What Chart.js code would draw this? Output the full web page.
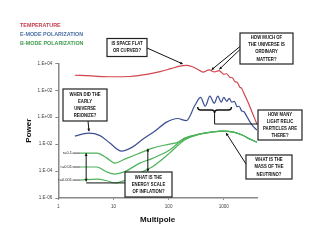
<!DOCTYPE html>
<meta charset="utf-8">
<title>CMB power spectra</title>
<script src="https://cdn.jsdelivr.net/npm/chart.js@4.4.1/dist/chart.umd.min.js"></script>
<style>
body { margin: 0; background: #fff; }
canvas { display: block; }
</style>

<canvas id="chart" width="310" height="240"></canvas>

<script>
// values (multipole l, power)
const ttL = [2, 4, 9, 20, 40, 70, 110, 160, 210, 270, 340, 420, 540, 680, 820, 1000, 1130, 1280, 1430, 1600, 1750, 1950, 2100, 2400, 2800, 3200, 4000];
const ttP = [1300, 1150, 1000, 1050, 1500, 2400, 4000, 6200, 7000, 5500, 3500, 2200, 3200, 2300, 2900, 1530, 1670, 920, 840, 430, 390, 170, 140, 43, 11, 2.8, 0.3];

const eeL = [2, 3.5, 5.7, 8.6, 14, 22, 34, 56, 92, 145, 210, 300, 380, 460, 560, 670, 780, 900, 1000, 1130, 1250, 1400, 1550, 1750, 1900, 2100, 2300, 2600, 3000, 3500, 4000];
const eeP = [0.039, 0.065, 0.043, 0.012, 0.003, 0.006, 0.023, 0.091, 0.43, 0.8, 0.55, 7.7, 30, 6.5, 36, 11, 36, 13, 30, 15, 25, 13, 15, 6, 6.5, 3.0, 2.6, 1.2, 0.43, 0.18, 0.11];

const bbL = [2.5, 5, 7.6, 10.6, 16, 30, 51, 104, 150, 194, 362, 600, 935, 1500, 2150, 3000, 4000];
const bbR1 = [0.00215, 0.00215, 0.00091, 0.00039, 0.00077, 0.00215, 0.0051, 0.01, 0.014, 0.028, 0.055, 0.078, 0.092, 0.078, 0.047, 0.023, 0.014];
const bbR01 = [0.0002, 0.0002, 0.000085, 0.00006, 0.00009, 0.00039, 0.00087, 0.0036, 0.0119, 0.0235, 0.055, 0.078, 0.092, 0.078, 0.047, 0.023, 0.014];
const bbR001 = [0.0000215, 0.000025, 0.000019, 0.000013, 0.00002, 0.000071, 0.00021, 0.00215, 0.0085, 0.02, 0.055, 0.078, 0.092, 0.078, 0.047, 0.023, 0.014];
const rLabels = ['r=0.1', 'r=0.01', 'r=0.001'];

const xTicks = [1, 10, 100, 1000];
const yTicks = [1e-6, 1e-4, 1e-2, 1, 1e2, 1e4];

const RED = '#d2454a', BLUE = '#3d4f92', GREEN = '#4db35a';

const pts = (ls, ps) => ls.map((l, i) => ({x: l, y: ps[i]}));

const line = (label, data, color) => ({
	label, data,
	borderColor: color,
	borderWidth: 1.2,
	pointRadius: 0,
	cubicInterpolationMode: 'monotone',
	fill: false,
});

// callout boxes (pixel layout) and what they point at (data coords)
const boxes = [
	{text: ['IS SPACE FLAT', 'OR CURVED?'], left: 107, top: 38.5, w: 40, h: 18},
	{text: ['HOW MUCH OF', 'THE UNIVERSE IS', 'ORDINARY', 'MATTER?'], left: 240, top: 33, w: 53, h: 31},
	{text: ['WHEN DID THE', 'EARLY', 'UNIVERSE', 'REIONIZE?'], left: 63, top: 89, w: 44, h: 32},
	{text: ['HOW MANY', 'LIGHT RELIC', 'PARTICLES ARE', 'THERE?'], left: 258, top: 110, w: 44, h: 30},
	{text: ['WHAT IS THE', 'MASS OF THE', 'NEUTRINO?'], left: 246, top: 155, w: 46, h: 24},
	{text: ['WHAT IS THE', 'ENERGY SCALE', 'OF INFLATION?'], left: 125, top: 172, w: 47, h: 25},
];
const pointers = [
	{from: [147, 48], to: {l: 180, p: 9000}},
	{from: [240, 46.5], to: {l: 600, p: 3300}},
	{from: [240, 49.5], to: {l: 830, p: 3600}},
	{from: [88, 121], to: {l: 3.6, p: 0.09}},
	{from: [246, 164], to: {l: 1100, p: 0.068}},
];

function arrowHead(ctx, hx, hy, fx, fy) {
	const a = Math.atan2(hy - fy, hx - fx), s = 3;
	ctx.beginPath();
	ctx.moveTo(hx, hy);
	ctx.lineTo(hx - s * Math.cos(a - 0.5), hy - s * Math.sin(a - 0.5));
	ctx.lineTo(hx - s * Math.cos(a + 0.5), hy - s * Math.sin(a + 0.5));
	ctx.closePath();
	ctx.fill();
}

function arrow(ctx, x1, y1, x2, y2, both) {
	ctx.beginPath();
	ctx.moveTo(x1, y1);
	ctx.lineTo(x2, y2);
	ctx.stroke();
	arrowHead(ctx, x2, y2, x1, y1);
	if (both) arrowHead(ctx, x1, y1, x2, y2);
}

function squeezeText(ctx, t, x, y, k) {
	ctx.fillText(t, x, y, ctx.measureText(t).width * k);
}

const decorations = {
	id: 'decorations',
	afterDraw(chart) {
		const {ctx, scales: {x, y}} = chart;
		const X = l => x.getPixelForValue(l);
		const Y = p => y.getPixelForValue(p);
		ctx.save();

		// legend
		ctx.font = 'bold 6px Arial';
		ctx.textBaseline = 'middle';
		ctx.textAlign = 'left';
		[['TEMPERATURE', '#c43c4c', 25], ['E-MODE POLARIZATION', '#4a6fa5', 34.3], ['B-MODE POLARIZATION', '#3f9a4f', 43.3]]
			.forEach(([t, c, ty]) => { ctx.fillStyle = c; squeezeText(ctx, t, 20, ty, 0.9); });

		// r labels on the B-mode curves
		ctx.font = '4px Arial';
		ctx.fillStyle = '#222';
		ctx.strokeStyle = '#222';
		ctx.lineWidth = 0.8;
		ctx.textAlign = 'right';
		[bbR1, bbR01, bbR001].forEach((arr, i) => {
			const ty = Y(arr[0]);
			ctx.fillText(rLabels[i], 72, ty);
			ctx.beginPath();
			ctx.moveTo(72.5, ty);
			ctx.lineTo(X(bbL[0]), ty);
			ctx.stroke();
		});

		// arrows
		ctx.strokeStyle = '#111';
		ctx.fillStyle = '#111';
		ctx.lineWidth = 1;
		pointers.forEach(({from, to}) => arrow(ctx, from[0], from[1], X(to.l), Y(to.p)));

		// energy scale of inflation
		const xa = X(3.2), xb = X(42);
		arrow(ctx, xa, Y(0.0021), xa, Y(0.000017), true);
		ctx.beginPath();
		ctx.moveTo(xa, Y(0.000017) + 1.5);
		ctx.lineTo(boxes[5].left, Y(0.000017) + 1.5);
		ctx.stroke();
		arrow(ctx, xb, Y(0.0045), xb, boxes[5].top - 0.5, true);

		// brace over the E-mode peaks
		const b1 = X(336), b2 = X(1380), by = Y(4), bc = (b1 + b2) / 2;
		ctx.lineWidth = 1.4;
		ctx.beginPath();
		ctx.moveTo(b1, by - 2);
		ctx.quadraticCurveTo(b1, by + 1, b1 + 3, by + 1);
		ctx.lineTo(bc - 3, by + 1);
		ctx.quadraticCurveTo(bc, by + 1, bc, by + 4);
		ctx.quadraticCurveTo(bc, by + 1, bc + 3, by + 1);
		ctx.lineTo(b2 - 3, by + 1);
		ctx.quadraticCurveTo(b2, by + 1, b2, by - 2);
		ctx.stroke();
		ctx.lineWidth = 1;
		const dMid = boxes[3].top + boxes[3].h / 2 - 1;
		ctx.beginPath();
		ctx.moveTo(bc, by + 4);
		ctx.lineTo(bc, dMid);
		ctx.lineTo(boxes[3].left, dMid);
		ctx.stroke();

		// boxes
		ctx.textAlign = 'center';
		ctx.font = 'bold 5px Arial';
		boxes.forEach(b => {
			ctx.fillStyle = '#fff';
			ctx.fillRect(b.left, b.top, b.w, b.h);
			ctx.strokeStyle = '#222';
			ctx.lineWidth = 1.2;
			ctx.strokeRect(b.left, b.top, b.w, b.h);
			ctx.fillStyle = '#111';
			const cx = b.left + b.w / 2, cy = b.top + b.h / 2;
			b.text.forEach((t, i) => {
				squeezeText(ctx, t, cx, cy + (i - (b.text.length - 1) / 2) * 7.2, 0.85);
			});
		});
		ctx.restore();
	}
};

const fmtPow = v => {
	const e = Math.round(Math.log10(v));
	return `1.E${e < 0 ? '-' : '+'}${String(Math.abs(e)).padStart(2, '0')}`;
};

new Chart(document.getElementById('chart'), {
	type: 'line',
	data: {
		datasets: [
			line('TEMPERATURE', pts(ttL, ttP), RED),
			line('E-MODE POLARIZATION', pts(eeL, eeP), BLUE),
			line('B-MODE POLARIZATION', pts(bbL, bbR1), GREEN),
			line('B-MODE r=0.01', pts(bbL, bbR01), GREEN),
			line('B-MODE r=0.001', pts(bbL, bbR001), GREEN),
		]
	},
	options: {
		responsive: false,
		animation: false,
		layout: {padding: {left: 18.3, top: 63.3, right: 53, bottom: 0}},
		plugins: {legend: {display: false}, tooltip: {enabled: false}},
		scales: {
			x: {
				type: 'logarithmic',
				min: 1, max: 4000,
				afterBuildTicks: s => { s.ticks = xTicks.map(v => ({value: v})); },
				afterFit: s => { s.height = 42; },
				ticks: {font: {size: 4.6, family: 'Arial'}, color: '#444', padding: 4, maxRotation: 0, callback: v => String(v)},
				grid: {drawOnChartArea: false, tickLength: 2, color: '#888'},
				border: {color: '#888', width: 1.5},
				title: {display: true, text: 'Multipole', font: {size: 8, weight: 'bold', family: 'Arial'}, color: '#111', padding: {top: 0, bottom: 15}},
			},
			y: {
				type: 'logarithmic',
				min: 1e-6, max: 1e4,
				afterBuildTicks: s => { s.ticks = yTicks.map(v => ({value: v})); },
				afterFit: s => { s.width = 40; },
				ticks: {font: {size: 4.6, family: 'Arial'}, color: '#444', padding: 3, callback: v => fmtPow(v)},
				grid: {drawOnChartArea: false, tickLength: 3, color: '#888'},
				border: {color: '#888', width: 1.5},
				title: {display: true, text: 'Power', font: {size: 8, weight: 'bold', family: 'Arial'}, color: '#111', padding: {top: 6, bottom: 0}},
			}
		}
	},
	plugins: [decorations]
});
</script>
